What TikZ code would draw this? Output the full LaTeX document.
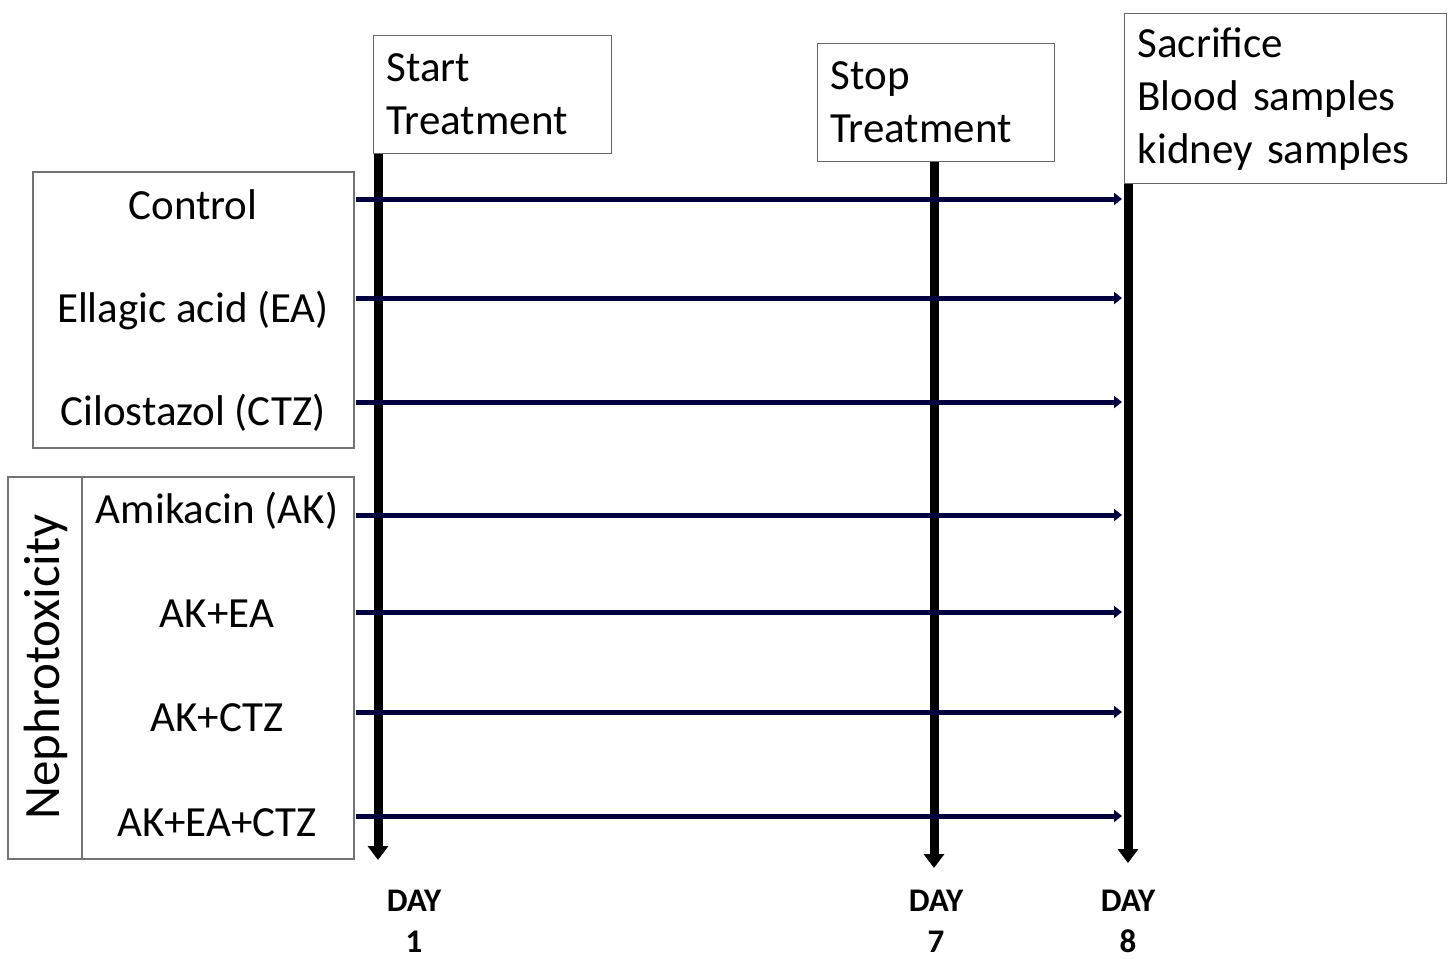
\documentclass[tikz,border=0pt]{standalone}
\usepackage{fontspec}
\setmainfont{Carlito}
\usetikzlibrary{arrows.meta}
\begin{document}
\begin{tikzpicture}[x=0.5pt,y=-0.5pt,every node/.style={font=\fontsize{21.5}{26.5}\selectfont,inner sep=0pt},grupo/.style={draw=black!55,line width=0.6pt},hito/.style={draw=black!60,line width=0.6pt,anchor=north west,align=left,text width=#1,inner xsep=6.5pt,minimum height=59pt},dia/.style={font=\fontsize{16.5}{20.5}\selectfont\bfseries,align=center},eje/.style={line width=4.5pt,-{Triangle[width=10pt,length=7pt]}},flecha/.style={draw=blue!25!black,line width=2.5pt,-{Triangle[width=6pt,length=4pt]},shorten >=3pt}]
\useasboundingbox (0,0) rectangle (1448,959);
\draw[grupo] (33,172) rectangle (354,448);
\draw[grupo] (8,477) rectangle (354,859);\draw[grupo] (82,477)--(82,859);
\node[hito=106pt] (ini) at (373,35) {Start\\Treatment};
\node[hito=105.5pt] (fin) at (817,43) {Stop\\Treatment};
\node[hito=148pt,minimum height=85pt] (sac) at (1124,13) {Sacrifice\\Blood samples\\kidney samples};
\node (ctl) at (193,205) {Control};
\node (ea) at (193,310) {Ellagic acid (EA)};
\node (ctz) at (193,413) {Cilostazol (CTZ)};
\node (ak) at (217,511) {Amikacin (AK)};
\node (akea) at (217,614) {AK+EA};
\node (akctz) at (217,718) {AK+CTZ};
\node (akeactz) at (217,823) {AK+EA+CTZ};
\node[rotate=90,font=\fontsize{25.5}{30}\selectfont] (nef) at (46,667) {Nephrotoxicity};
\coordinate (d1) at (378,860);\coordinate (d7) at (934,868);\coordinate (d8) at (1128,863);
\draw[eje] (ini.south west -| d1)--(d1);\draw[eje] (fin.south -| d7)--(d7);\draw[eje] (sac.south west -| d8)--(d8);
\foreach \n/\y in {a1/199,a2/298,a3/402,a4/515,a5/612,a6/712,a7/816}{\coordinate (\n) at (356,\y);\draw[flecha] (\n)--(\n -| d8);}
\node[dia] (t1) at (414,921) {DAY\\1};
\node[dia] (t7) at (936,921) {DAY\\7};
\node[dia] (t8) at (1128,921) {DAY\\8};
\end{tikzpicture}
\end{document}
